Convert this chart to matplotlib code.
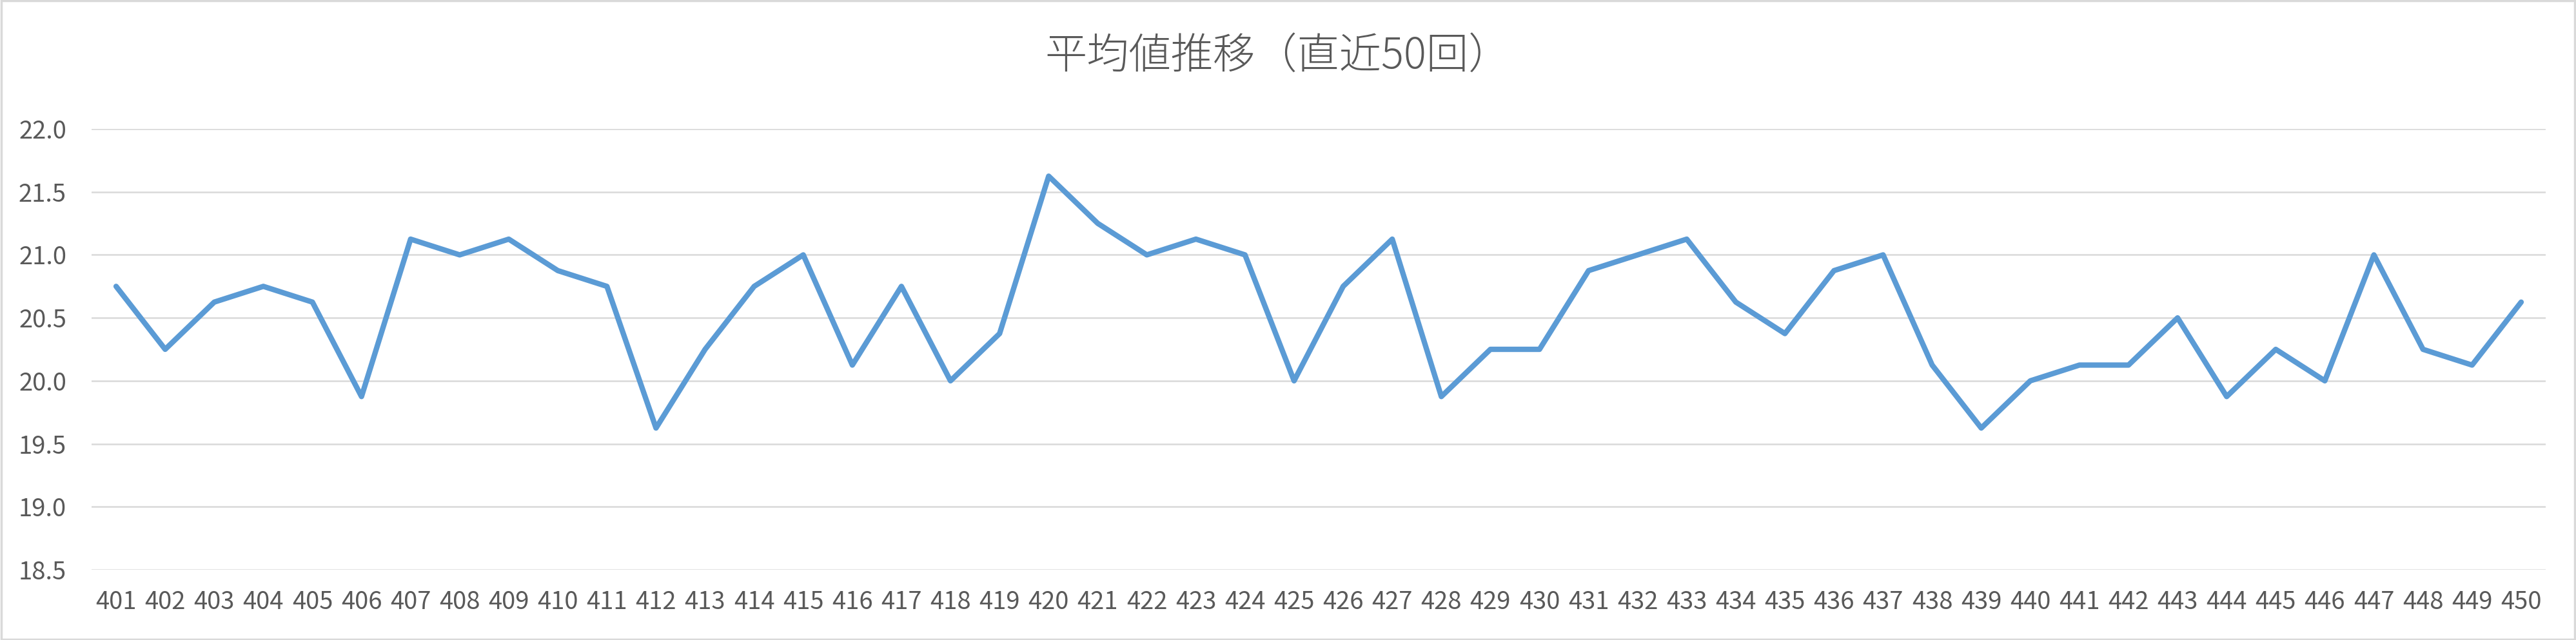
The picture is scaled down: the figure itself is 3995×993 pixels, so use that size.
import numpy as np
import matplotlib as mpl
mpl.use("Agg")
from matplotlib import pyplot as plt
from matplotlib.patches import Rectangle

plt.rcParams['font.family'] = ['Noto Sans CJK JP', 'DejaVu Sans']

# draw numbers 401..450 and their average values
draws = [str(n) for n in range(401, 451)]
averages = [20.75, 20.25, 20.625, 20.75, 20.625, 19.875, 21.125, 21.0, 21.125, 20.875,
            20.75, 19.625, 20.25, 20.75, 21.0, 20.125, 20.75, 20.0, 20.375, 21.625,
            21.25, 21.0, 21.125, 21.0, 20.0, 20.75, 21.125, 19.875, 20.25, 20.25,
            20.875, 21.0, 21.125, 20.625, 20.375, 20.875, 21.0, 20.125, 19.625, 20.0,
            20.125, 20.125, 20.5, 19.875, 20.25, 20.0, 21.0, 20.25, 20.125, 20.625]
yticks = [18.5, 19.0, 19.5, 20.0, 20.5, 21.0, 21.5, 22.0]
title = '平均値推移（直近50回）'

text_col = '#595959'
line_col = '#5B9BD5'
grid_col = '#D9D9D9'

fig = plt.figure(figsize=(39.95, 9.93), dpi=100)
ax = fig.add_axes([0.03554, 0.10977, 0.9527, 0.6888])

x = np.arange(len(draws))
ax.plot(x, averages, color=line_col, lw=6.0, solid_joinstyle='round', solid_capstyle='round', zorder=3)

ax.set_xlim(-0.5, len(draws) - 0.5)
ax.set_ylim(yticks[0], yticks[-1])
ax.set_yticks(yticks)
ax.set_yticklabels([f'{v:.1f}' for v in yticks])
ax.set_xticks(x)
ax.set_xticklabels(draws)
ax.yaxis.grid(True, color=grid_col, lw=1.8)
ax.set_axisbelow(True)
for s in ax.spines.values():
    s.set_visible(False)
ax.tick_params(axis='both', length=0, colors=text_col, labelsize=27.5)
ax.tick_params(axis='y', pad=28)
ax.tick_params(axis='x', pad=22)

fig.text(0.496, 0.912, title, ha='center', va='center', fontsize=47,
         color=text_col, fontweight='light')

# chart border
fig.patches.append(Rectangle((0.0005, 0.001), 0.999, 0.998, transform=fig.transFigure,
                             fill=False, edgecolor=grid_col, lw=2.5))

fig.savefig('out.png', dpi=100, facecolor='white')
